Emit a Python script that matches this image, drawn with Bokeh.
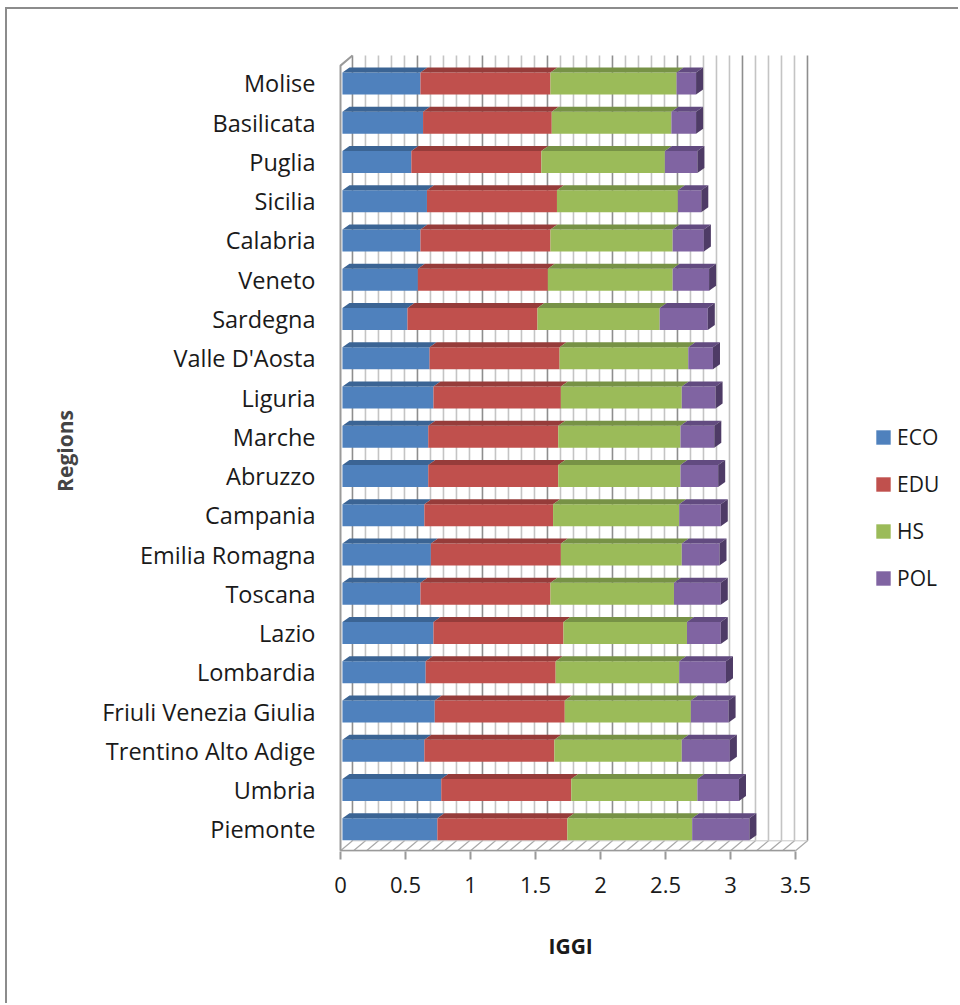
import numpy as np
from bokeh.plotting import figure
from bokeh.models import (ColumnDataSource, FixedTicker, Legend, LegendItem, Range1d, Title)
from bokeh.embed import file_html
from bokeh.resources import INLINE

# ---------------- data (bottom -> top) ----------------
regions = ["Piemonte", "Umbria", "Trentino Alto Adige", "Friuli Venezia Giulia",
           "Lombardia", "Lazio", "Toscana", "Emilia Romagna", "Campania",
           "Abruzzo", "Marche", "Liguria", "Valle D'Aosta", "Sardegna",
           "Veneto", "Calabria", "Sicilia", "Puglia", "Basilicata", "Molise"]
eco = [0.73, 0.76, 0.63, 0.71, 0.64, 0.70, 0.60, 0.68, 0.63, 0.66,
       0.66, 0.70, 0.67, 0.50, 0.58, 0.60, 0.65, 0.53, 0.62, 0.60]
edu = [1.00, 1.00, 1.00, 1.00, 1.00, 1.00, 1.00, 1.00, 0.99, 1.00,
       1.00, 0.98, 1.00, 1.00, 1.00, 1.00, 1.00, 1.00, 0.99, 1.00]
hs = [0.96, 0.97, 0.98, 0.97, 0.95, 0.95, 0.95, 0.93, 0.97, 0.94,
      0.94, 0.93, 0.99, 0.94, 0.96, 0.94, 0.93, 0.95, 0.92, 0.97]
pol = [0.44, 0.32, 0.37, 0.29, 0.36, 0.26, 0.36, 0.29, 0.32, 0.29,
       0.26, 0.26, 0.19, 0.37, 0.28, 0.24, 0.18, 0.25, 0.19, 0.15]
series_names = ["ECO", "EDU", "HS", "POL"]
x_ticks = [0, 0.5, 1, 1.5, 2, 2.5, 3, 3.5]
x_title = "IGGI"
y_title = "Regions"

# ---------------- styling ----------------
FONT = "Open Sans"
front_cols = ["#4f81bd", "#c0504d", "#9bbb59", "#8064a2"]
top_cols = ["#3b6494", "#963c3a", "#779246", "#624b80"]
side_col = "#4e3b66"

X_MAX = 3.5
DXW, DYW = 0.092, 0.255      # depth of the 3-D floor / back wall
BX0 = 0.015                  # bars sit a little behind the floor edge
DDX, DDY = 0.054, 0.127      # depth of each bar
BH = 0.56                    # bar thickness
YF = -0.548                  # floor front edge
YTOP = 19.71                 # top of back wall

p = figure(width=953, height=996, output_backend="svg", toolbar_location=None,
           x_range=Range1d(-0.0308, 4.769), y_range=Range1d(-0.565, 19.84),
           min_border_left=329, min_border_right=0, min_border_top=41,
           min_border_bottom=154)
p.styles = {"margin-left": "5px", "margin-top": "7px",
            "border-left": "2px solid #8c8c8c", "border-top": "2px solid #8c8c8c"}
p.outline_line_color = None
p.xgrid.visible = False
p.ygrid.visible = False
p.background_fill_color = "white"
p.border_fill_color = "white"

# ---- back wall & floor grid ----
gv = [round(0.1 * i, 1) for i in range(36)]
is_major = [abs(v * 2 - round(v * 2)) < 1e-9 for v in gv]
gx = np.array(gv)
minor_x = gx[[not m for m in is_major]]
major_x = gx[is_major]
for xs, col in ((minor_x, "#c4c4c4"), (major_x, "#8e8e8e")):
    p.segment(x0=xs + DXW, y0=YF + DYW, x1=xs + DXW, y1=YTOP,
              line_color=col, line_width=1.6)
    p.segment(x0=xs, y0=YF, x1=xs + DXW, y1=YF + DYW,
              line_color="#a8a8a8", line_width=1.2)
# floor edges
p.segment(x0=[DXW], y0=[YF + DYW], x1=[X_MAX + DXW], y1=[YF + DYW],
          line_color="#c8c8c8", line_width=1)
p.segment(x0=[0], y0=[YF], x1=[X_MAX], y1=[YF], line_color="#9a9a9a", line_width=2)
# left wall edge
p.line(x=[0, 0, DXW], y=[YF, YTOP - DYW, YTOP], line_color="#9a9a9a", line_width=2)

# ---- bars ----
y = np.arange(len(regions), dtype=float)
vals = [np.array(eco), np.array(edu), np.array(hs), np.array(pol)]
cum = np.zeros(len(regions))
renderers = []
for k, (name, v) in enumerate(zip(series_names, vals)):
    left = cum + BX0
    right = cum + v + BX0
    src = ColumnDataSource(dict(y=y, left=left, right=right))
    r = p.hbar(y="y", left="left", right="right", height=BH, source=src,
               fill_color=front_cols[k], line_color=None)
    renderers.append((name, r))
    xs_top = [[l, rr, rr + DDX, l + DDX] for l, rr in zip(left, right)]
    ys_top = [[yy + BH / 2, yy + BH / 2, yy + BH / 2 + DDY, yy + BH / 2 + DDY] for yy in y]
    p.patches(xs=xs_top, ys=ys_top, fill_color=top_cols[k], line_color=None)
    cum = cum + v
# end faces
xs_side = [[rr, rr + DDX, rr + DDX, rr] for rr in cum + BX0]
ys_side = [[yy - BH / 2, yy - BH / 2 + DDY, yy + BH / 2 + DDY, yy + BH / 2] for yy in y]
p.patches(xs=xs_side, ys=ys_side, fill_color=side_col, line_color=None)

# ---- axes ----
xa = p.xaxis[0]
xa.bounds = (0, X_MAX)
xa.ticker = FixedTicker(ticks=x_ticks)
xa.major_label_overrides = {0: "0", 1: "1", 2: "2", 3: "3"}
xa.axis_line_color = None
xa.major_tick_out = 8
xa.major_tick_in = 0
xa.major_tick_line_color = "#9a9a9a"
xa.major_tick_line_width = 2
xa.minor_tick_line_color = None
xa.major_label_standoff = 17
xa.major_label_text_font = FONT
xa.major_label_text_font_size = "22px"
xa.major_label_text_color = "#1a1a1a"

# x-axis title, centred under the 0-3.5 scale rather than the whole frame
p.add_layout(Title(text=x_title, align="left", offset=212, standoff=68,
                   text_font=FONT, text_font_style="bold",
                   text_font_size="21px", text_color="#1a1a1a"), "below")

ya = p.yaxis[0]
ya.ticker = FixedTicker(ticks=list(range(len(regions))))
ya.major_label_overrides = {i: n for i, n in enumerate(regions)}
ya.axis_line_color = None
ya.major_tick_line_color = None
ya.minor_tick_line_color = None
ya.major_tick_out = 0
ya.major_label_standoff = 21
ya.major_label_text_font = FONT
ya.major_label_text_font_size = "23.5px"
ya.major_label_text_color = "#1a1a1a"
ya.axis_label = y_title
ya.axis_label_text_font = FONT
ya.axis_label_text_font_style = "bold"
ya.axis_label_text_font_size = "21px"
ya.axis_label_standoff = 20

# ---- legend ----
legend = Legend(items=[LegendItem(label=n, renderers=[r]) for n, r in renderers],
                location=(538, 259), orientation="vertical",
                glyph_width=18, glyph_height=18, label_height=18,
                spacing=19, padding=0, margin=0, label_standoff=5,
                label_text_font=FONT, label_text_font_size="21px",
                label_text_color="#1a1a1a",
                border_line_color=None, background_fill_alpha=0)
p.add_layout(legend, "center")

open("out.html", "w").write(file_html(p, INLINE))
